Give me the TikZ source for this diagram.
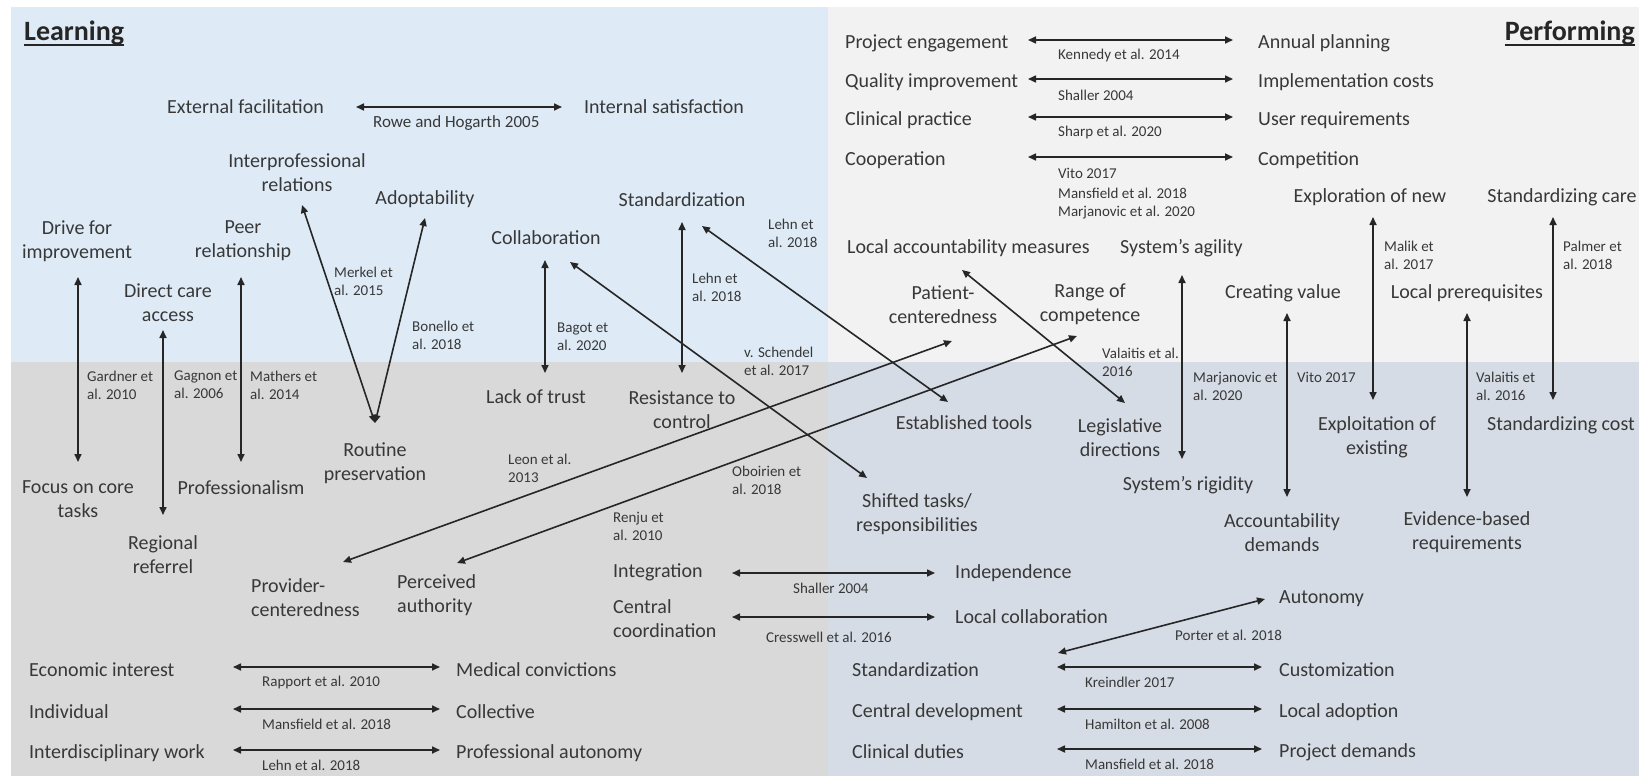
\documentclass[tikz,border=0pt]{standalone}
\usepackage{fontspec}
\setmainfont{Carlito}
\usetikzlibrary{arrows.meta}
\definecolor{learnbg}{HTML}{DEEBF7}
\definecolor{perfbg}{HTML}{F2F2F2}
\definecolor{learnlow}{HTML}{D9D9D9}
\definecolor{perflow}{HTML}{D6DCE5}
\definecolor{txt}{HTML}{383838}
\begin{document}
\begin{tikzpicture}[x=1pt,y=-1pt,>={Triangle[length=8pt,width=7pt]},
  lbl/.style={inner sep=0pt,align=center,text=txt,font=\fontsize{20}{24}\selectfont},
  cite/.style={inner sep=0pt,align=left,anchor=west,text=txt,font=\fontsize{15}{18}\selectfont},
  head/.style={inner sep=0pt,text=black!85,font=\fontsize{28}{32}\selectfont\bfseries},
  dbl/.style={<->,line width=1.6pt,draw=black!85}]
% quadrants
\fill[white](0,0)rectangle(1639,776);
\fill[learnbg](11,7)rectangle(828,362);
\fill[perfbg](828,7)rectangle(1639,362);
\fill[learnlow](11,362)rectangle(828,776);
\fill[perflow](828,362)rectangle(1639,776);
\useasboundingbox(0,0)rectangle(1639,776);
\node[head,anchor=west](learn)at(24,33){Learning};
\node[head,anchor=east](perf)at(1635,33){Performing};
\draw[line width=2pt,black!85]([shift={(0,5)}]learn.base west)--([shift={(0,5)}]learn.base east);
\draw[line width=2pt,black!85]([shift={(0,5)}]perf.base west)--([shift={(0,5)}]perf.base east);
% learning, upper half
\node[lbl](extf)at(245.5,107){External facilitation};
\node[lbl](ints)at(664,107){Internal satisfaction};
\draw[dbl]([shift={(110.5,0)}]extf.center)--([shift={(-102,0)}]ints.center);
\node[cite,font=\fontsize{17}{20}\selectfont](rowe)at(373,123){Rowe and Hogarth 2005};
\node[lbl](inter)at(297,172.5){Interprofessional\\relations};
\node[lbl](adopt)at(425,199){Adoptability};
\node[lbl](drive)at(77,241){Drive for\\improvement};
\node[lbl](peer)at(243,241){Peer\\relationship};
\node[lbl](stdl)at(682,200){Standardization};
\node[lbl](collab)at(546,238){Collaboration};
\node[lbl](direct)at(168,302.5){Direct care\\access};
\node[cite](lehna)at(768,233.5){Lehn et\\al. 2018};
\node[cite](merkel)at(334,281){Merkel et\\al. 2015};
\node[cite](bonello)at(412,335){Bonello et\\al. 2018};
\node[cite](bagot)at(557,336.5){Bagot et\\al. 2020};
\node[cite](lehnb)at(692,287){Lehn et\\al. 2018};
% learning, lower half
\node[lbl](lack)at(536,397){Lack of trust};
\node[lbl](resist)at(682,409.5){Resistance to\\control};
\node[lbl](routine)at(375,463.5){Routine\\preservation};
\node[lbl](focus)at(78,499.5){Focus on core\\tasks};
\node[lbl](prof)at(241,488){Professionalism};
\node[lbl](regional)at(163,555){Regional\\referrel};
\node[lbl,anchor=west,align=left](provider)at(251,598){Provider-\\centeredness};
\node[lbl,anchor=west,align=left](perceived)at(397,595.5){Perceived\\authority};
\node[cite](gardner)at(87,385){Gardner et\\al. 2010};
\node[cite](gagnon)at(174,385){Gagnon et\\al. 2006};
\node[cite](mathers)at(250,385){Mathers et\\al. 2014};
\node[cite](schendel)at(744,361.5){v. Schendel\\et al. 2017};
\node[cite](leon)at(508,468){Leon et al.\\2013};
\node[cite](oboirien)at(732,480.5){Oboirien et\\al. 2018};
\node[cite](renju)at(613,526.5){Renju et\\al. 2010};
% performing, upper half
\foreach \n/\yy/\ltxt/\rtxt/\ctxt in {1/43/Project engagement/Annual planning/Kennedy et al. 2014,
  2/82/Quality improvement/Implementation costs/Shaller 2004,
  3/120/Clinical practice/User requirements/Sharp et al. 2020,
  4/160/Cooperation/Competition/Vito 2017}{
  \node[lbl,anchor=west](tl\n)at(845,\yy){\ltxt};
  \node[lbl,anchor=west](tr\n)at(1258,\yy){\rtxt};
  \draw[dbl]([shift={(183,-3)}]tl\n.west)--([shift={(-25,-3)}]tr\n.west);
  \node[cite](tc\n)at(1058,\yy+13){\ctxt};
}
\node[cite](mansa)at(1058,193){Mansfield et al. 2018};
\node[cite](marja)at(1058,213){Marjanovic et al. 2020};
\node[lbl](expl)at(1370,197){Exploration of new};
\node[lbl](stdcare)at(1562,197){Standardizing care};
\node[lbl,anchor=west](lam)at(847,248){Local accountability measures};
\node[lbl,anchor=west](agil)at(1120,248){System’s agility};
\node[cite](malik)at(1384,255){Malik et\\al. 2017};
\node[cite](palmer)at(1563,255){Palmer et\\al. 2018};
\node[lbl](patient)at(943,304.5){Patient-\\centeredness};
\node[lbl](range)at(1090,304.5){Range of\\competence};
\node[lbl](creating)at(1283,293){Creating value};
\node[lbl](localpre)at(1467,293){Local prerequisites};
% performing, lower half
\node[cite](valaa)at(1102,362.5){Valaitis et al.\\2016};
\node[cite](marjb)at(1193,386){Marjanovic et\\al. 2020};
\node[cite](vitob)at(1297,377){Vito 2017};
\node[cite](valab)at(1476,386){Valaitis et\\al. 2016};
\node[lbl](estab)at(964,423){Established tools};
\node[lbl](legis)at(1120,438){Legislative\\directions};
\node[lbl](exploit)at(1377,437.5){Exploitation of\\existing};
\node[lbl](stdcost)at(1561,425){Standardizing cost};
\node[lbl](rigid)at(1188,485){System’s rigidity};
\node[lbl](shifted)at(917,514){Shifted tasks/\\responsibilities};
\node[lbl](account)at(1282,532.5){Accountability\\demands};
\node[lbl](evidence)at(1467,532.5){Evidence-based\\requirements};
% tensions across the halves
\draw[dbl]([shift={(1,36)}]drive.center)--([shift={(0,-37.5)}]focus.center);
\draw[dbl]([shift={(-5,27.5)}]direct.center)--([shift={(0,-40)}]regional.center);
\draw[dbl]([shift={(-2,36)}]peer.center)--([shift={(0,-26)}]prof.center);
\draw[dbl]([shift={(5,32.5)}]inter.center)--([shift={(0,-40.5)}]routine.center);
\draw[dbl]([shift={(0,19)}]adopt.center)--([shift={(0,-40.5)}]routine.center);
\draw[dbl]([shift={(-1,22)}]collab.center)--([shift={(9,-24)}]lack.center);
\draw[dbl]([shift={(0,22)}]stdl.center)--([shift={(0,-36.5)}]resist.center);
\draw[dbl]([shift={(24,24)}]collab.center)--([shift={(-50,-36)}]shifted.center);
\draw[dbl]([shift={(20,26)}]stdl.center)--([shift={(-16,-21)}]estab.center);
\draw[dbl]([shift={(92,-36)}]provider.west)--([shift={(9,36.5)}]patient.center);
\draw[dbl]([shift={(60,-32.5)}]perceived.west)--([shift={(-13,31.5)}]range.center);
\draw[dbl]([shift={(115,22)}]lam.west)--([shift={(5,-35)}]legis.center);
\draw[dbl]([shift={(62,27)}]agil.west)--([shift={(-6,-26)}]rigid.center);
\draw[dbl]([shift={(4,20)}]creating.center)--([shift={(5,-35.5)}]account.center);
\draw[dbl]([shift={(3,20)}]expl.center)--([shift={(-4,-37.5)}]exploit.center);
\draw[dbl]([shift={(0,20)}]localpre.center)--([shift={(0,-35.5)}]evidence.center);
\draw[dbl]([shift={(-9,20)}]stdcare.center)--([shift={(-8,-25)}]stdcost.center);
% bottom pairs
\foreach \n/\yy/\ltxt/\rtxt/\ctxt in {1/670/Economic interest/Medical convictions/Rapport et al. 2010,
  2/712/Individual/Collective/Mansfield et al. 2018,
  3/753/Interdisciplinary work/Professional autonomy/Lehn et al. 2018}{
  \node[lbl,anchor=west](bl\n)at(29,\yy){\ltxt};
  \node[lbl,anchor=west](br\n)at(456,\yy){\rtxt};
  \draw[dbl]([shift={(204,-3)}]bl\n.west)--([shift={(-16,-3)}]br\n.west);
  \node[cite](bc\n)at(262,\yy+12){\ctxt};
}
\node[lbl,anchor=west](integ)at(613,572){Integration};
\node[lbl,anchor=west](indep)at(955,573){Independence};
\draw[dbl]([shift={(119,1)}]integ.west)--([shift={(-20,0)}]indep.west);
\node[cite](shallb)at(793,588){Shaller 2004};
\node[lbl,anchor=west,align=left](ccoord)at(613,619){Central\\coordination};
\node[lbl,anchor=west](lcoll)at(955,617){Local collaboration};
\draw[dbl]([shift={(119,-2)}]ccoord.west)--([shift={(-20,0)}]lcoll.west);
\node[cite](cress)at(766,637){Cresswell et al. 2016};
\foreach \n/\yy/\ltxt/\rtxt/\ctxt in {1/670/Standardization/Customization/Kreindler 2017,
  2/712/Central development/Local adoption/Hamilton et al. 2008,
  3/752/Clinical duties/Project demands/Mansfield et al. 2018}{
  \node[lbl,anchor=west](gl\n)at(852,\yy){\ltxt};
  \node[lbl,anchor=west](gr\n)at(1279,\yy){\rtxt};
  \draw[dbl]([shift={(205,-3)}]gl\n.west)--([shift={(-17,-3)}]gr\n.west);
  \node[cite](gc\n)at(1085,\yy+12){\ctxt};
}
\node[lbl,anchor=west](autonomy)at(1279,599){Autonomy};
\draw[dbl]([shift={(206,-17)}]gl1.west)--([shift={(-14,0)}]autonomy.west);
\node[cite](porter)at(1175,635){Porter et al. 2018};
\end{tikzpicture}
\end{document}
